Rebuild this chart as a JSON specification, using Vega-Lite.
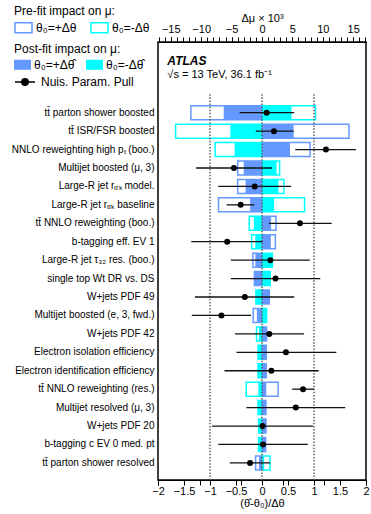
{
  "$schema": "https://vega.github.io/schema/vega-lite/v6.json",
  "width": 208,
  "height": 438,
  "autosize": {"type": "none"},
  "padding": {"left": 158, "top": 42, "right": 5, "bottom": 34},
  "background": "white",
  "config": {
    "font": "Liberation Sans",
    "view": {"stroke": "black", "strokeWidth": 1.5},
    "axis": {"labelFont": "Liberation Sans", "titleFont": "Liberation Sans", "labelColor": "black", "titleColor": "black", "titleFontWeight": "normal", "grid": false, "labelOverlap": false, "labelFlush": false},
    "legend": {"labelFont": "Liberation Sans", "titleFont": "Liberation Sans", "titleFontWeight": "normal", "labelFontSize": 12, "titleFontSize": 12, "labelColor": "black", "titleColor": "black"}
  },
  "data": {
    "values": [
      {"name": "tt̄ parton shower boosted", "pull": 0.09, "lo": -0.43, "hi": 0.62, "preUp": -11.7, "preDown": 8.8, "postUp": -6.3, "postDown": 4.85},
      {"name": "tt̄ ISR/FSR boosted", "pull": 0.23, "lo": -0.12, "hi": 0.61, "preUp": 14.3, "preDown": -14.2, "postUp": 5.2, "postDown": -5.2},
      {"name": "NNLO reweighting high pₜ (boo.)", "pull": 1.23, "lo": 0.64, "hi": 1.81, "preUp": 7.9, "preDown": -7.7, "postUp": 4.6, "postDown": -4.5},
      {"name": "Multijet boosted (μ, 3)", "pull": -0.54, "lo": -1.27, "hi": 0.19, "preUp": -4.0, "preDown": 2.9, "postUp": -3.0, "postDown": 2.4},
      {"name": "Large-R jet rₜᵣₖ model.", "pull": -0.14, "lo": -0.84, "hi": 0.56, "preUp": -4.0, "preDown": 3.6, "postUp": -2.7, "postDown": 2.7},
      {"name": "Large-R jet rₜᵣₖ baseline", "pull": -0.41, "lo": -0.68, "hi": -0.15, "preUp": -7.15, "preDown": 7.0, "postUp": -1.95, "postDown": 2.0},
      {"name": "tt̄ NNLO reweighting (boo.)", "pull": 0.73, "lo": 0.13, "hi": 1.34, "preUp": 2.3, "preDown": -2.1, "postUp": 1.5, "postDown": -1.35},
      {"name": "b-tagging eff. EV 1", "pull": -0.67, "lo": -1.36, "hi": 0.01, "preUp": 2.2, "preDown": -1.7, "postUp": 1.45, "postDown": -1.1},
      {"name": "Large-R jet τ₃₂ res. (boo.)", "pull": 0.16, "lo": -0.6, "hi": 0.92, "preUp": -1.5, "preDown": 1.7, "postUp": -1.1, "postDown": 1.65},
      {"name": "single top Wt DR vs. DS", "pull": 0.26, "lo": -0.6, "hi": 1.12, "preUp": -1.25, "preDown": 1.35, "postUp": -1.2, "postDown": 1.3},
      {"name": "W+jets PDF 49", "pull": -0.33, "lo": -1.29, "hi": 0.62, "preUp": 1.2, "preDown": -1.0, "postUp": 1.2, "postDown": -0.95},
      {"name": "Multijet boosted (e, 3, fwd.)", "pull": -0.78, "lo": -1.35, "hi": -0.21, "preUp": -1.45, "preDown": 0.75, "postUp": -0.85, "postDown": 0.7},
      {"name": "W+jets PDF 42", "pull": 0.14, "lo": -0.52, "hi": 0.81, "preUp": 0.75, "preDown": -0.9, "postUp": 0.7, "postDown": -0.5},
      {"name": "Electron isolation efficiency", "pull": 0.46, "lo": -0.49, "hi": 1.43, "preUp": 0.7, "preDown": -0.65, "postUp": 0.7, "postDown": -0.6},
      {"name": "Electron identification efficiency", "pull": 0.18, "lo": -0.72, "hi": 1.09, "preUp": 0.7, "preDown": -0.65, "postUp": 0.7, "postDown": -0.65},
      {"name": "tt̄ NNLO reweighting (res.)", "pull": 0.79, "lo": 0.58, "hi": 1.0, "preUp": 2.65, "preDown": -2.6, "postUp": 0.7, "postDown": -0.6},
      {"name": "Multijet resolved (μ, 3)", "pull": 0.65, "lo": -0.3, "hi": 1.6, "preUp": 0.65, "preDown": -0.65, "postUp": 0.65, "postDown": -0.6},
      {"name": "W+jets PDF 20", "pull": 0.01, "lo": -0.96, "hi": 0.98, "preUp": 0.65, "preDown": -0.55, "postUp": 0.65, "postDown": -0.55},
      {"name": "b-tagging c EV 0 med. pt", "pull": 0.02, "lo": -0.84, "hi": 0.88, "preUp": 0.6, "preDown": -0.55, "postUp": 0.6, "postDown": -0.55},
      {"name": "tt̄ parton shower resolved", "pull": -0.23, "lo": -0.62, "hi": 0.16, "preUp": -1.05, "preDown": 1.3, "postUp": -0.5, "postDown": 0.35}
    ]
  },
  "layer": [
    {
      "encoding": {
        "y": {
          "field": "name", "type": "nominal", "sort": null,
          "scale": {"type": "band", "range": [63.7, 427.9], "paddingInner": 0.24, "paddingOuter": 0},
          "axis": {"title": null, "ticks": false, "domain": false, "labelFontSize": 10, "labelPadding": 4, "labelLimit": 0}
        }
      },
      "layer": [
        {
          "transform": [{"fold": ["preUp", "preDown"], "as": ["pre", "impact"]}],
          "mark": {"type": "bar", "fill": "transparent", "strokeWidth": 1.5, "size": 14},
          "encoding": {
            "x": {
              "field": "impact", "type": "quantitative",
              "scale": {"domain": [-17.1, 17.1], "nice": false, "zero": false},
              "axis": {
                "orient": "top", "title": null, "labels": false,
                "domainColor": "black", "tickColor": "black",
                "values": [-17,-16,-15,-14,-13,-12,-11,-10,-9,-8,-7,-6,-5,-4,-3,-2,-1,0,1,2,3,4,5,6,7,8,9,10,11,12,13,14,15,16,17]
              }
            },
            "x2": {"datum": 0},
            "stroke": {
              "field": "pre", "type": "nominal",
              "scale": {"domain": ["preUp", "preDown"], "range": ["#6699ff", "#00ffff"]},
              "legend": {
                "title": "Pre-fit impact on μ:", "orient": "none", "legendX": -144, "legendY": -36,
                "direction": "horizontal", "symbolType": "M-1,-0.59H1V0.59H-1Z", "symbolSize": 289,
                "symbolStrokeWidth": 1.5, "symbolFillColor": "white", "columnPadding": 11, "labelOffset": 3, "titlePadding": 0,
                "labelExpr": "datum.value == 'preUp' ? 'θ₀=+Δθ' : 'θ₀=-Δθ'"
              }
            }
          }
        },
        {
          "transform": [{"fold": ["postUp", "postDown"], "as": ["post", "impact"]}],
          "mark": {"type": "bar", "size": 14},
          "encoding": {
            "x": {
              "field": "impact", "type": "quantitative",
              "scale": {"domain": [-17.1, 17.1], "nice": false, "zero": false},
              "axis": {
                "orient": "top", "title": "Δμ × 10³", "titleFontSize": 11, "titlePadding": 0,
                "values": [-15, -10, -5, 0, 5, 10, 15], "format": "d",
                "labelFontSize": 11, "labelPadding": 3,
                "domainColor": "black", "tickColor": "black"
              }
            },
            "x2": {"datum": 0},
            "fill": {
              "field": "post", "type": "nominal",
              "scale": {"domain": ["postUp", "postDown"], "range": ["#6699ff", "#00ffff"]},
              "legend": {
                "title": "Post-fit impact on μ:", "orient": "none", "legendX": -144, "legendY": 2,
                "direction": "horizontal", "symbolType": "M-1,-0.59H1V0.59H-1Z", "symbolSize": 289,
                "symbolStrokeWidth": 0, "columnPadding": 11, "labelOffset": 3, "titlePadding": 0,
                "labelExpr": "datum.value == 'postUp' ? 'θ₀=+Δθ̂' : 'θ₀=-Δθ̂'"
              }
            }
          }
        }
      ],
      "resolve": {"scale": {"x": "independent"}, "axis": {"x": "independent"}}
    },
    {
      "encoding": {
        "x": {
          "type": "quantitative", "scale": {"domain": [-2, 2], "nice": false, "zero": false},
          "axis": {
            "orient": "bottom", "title": "(θ̂-θ₀)/Δθ", "titleFontSize": 11, "titlePadding": 1,
            "values": [-2, -1.5, -1, -0.5, 0, 0.5, 1, 1.5, 2], "format": "~g",
            "labelFontSize": 11, "labelPadding": 0,
            "domainColor": "black", "tickColor": "black"
          }
        }
      },
      "layer": [
        {
          "data": {"values": [{"ref": -1}, {"ref": 0}, {"ref": 1}]},
          "mark": {"type": "rule", "color": "#555555", "strokeWidth": 1.4, "strokeDash": [1.5, 1.6]},
          "encoding": {
            "x": {"field": "ref", "type": "quantitative"},
            "y": {"datum": 0, "type": "quantitative", "scale": {"domain": [-2.836, 20.93], "reverse": true, "nice": false, "zero": false}, "axis": null},
            "y2": {"datum": 20.93}
          }
        },
        {
          "data": {"values": [{"label": "ATLAS", "px": -1.82, "row": -1.59}]},
          "mark": {"type": "text", "fontStyle": "italic", "fontWeight": "bold", "fontSize": 12, "align": "left", "baseline": "alphabetic", "color": "black"},
          "encoding": {
            "x": {"field": "px", "type": "quantitative"},
            "y": {"field": "row", "type": "quantitative"},
            "text": {"field": "label"}
          }
        },
        {
          "data": {"values": [{"label": "√s = 13 TeV, 36.1 fb⁻¹", "px": -1.82, "row": -0.88}]},
          "mark": {"type": "text", "fontSize": 11, "align": "left", "baseline": "alphabetic", "color": "black"},
          "encoding": {
            "x": {"field": "px", "type": "quantitative"},
            "y": {"field": "row", "type": "quantitative"},
            "text": {"field": "label"}
          }
        }
      ]
    },
    {
      "encoding": {
        "y": {
          "field": "name", "type": "nominal", "sort": null,
          "scale": {"type": "band", "range": [63.7, 427.9], "paddingInner": 0.24, "paddingOuter": 0},
          "axis": null
        }
      },
      "layer": [
        {
          "mark": {"type": "rule", "color": "#111111", "strokeWidth": 1.3},
          "encoding": {
            "x": {
              "field": "lo", "type": "quantitative",
              "scale": {"domain": [-2, 2], "nice": false, "zero": false},
              "axis": {
                "orient": "bottom", "title": null, "labels": false,
                "domainColor": "black", "tickColor": "black",
                "values": [-2,-1.9,-1.8,-1.7,-1.6,-1.5,-1.4,-1.3,-1.2,-1.1,-1,-0.9,-0.8,-0.7,-0.6,-0.5,-0.4,-0.3,-0.2,-0.1,0,0.1,0.2,0.3,0.4,0.5,0.6,0.7,0.8,0.9,1,1.1,1.2,1.3,1.4,1.5,1.6,1.7,1.8,1.9,2]
              }
            },
            "x2": {"field": "hi"}
          }
        },
        {
          "mark": {"type": "point", "filled": true, "size": 36, "opacity": 1},
          "encoding": {
            "x": {"field": "pull", "type": "quantitative"},
            "color": {
              "datum": "Nuis. Param. Pull",
              "scale": {"range": ["black"]},
              "legend": {
                "title": null, "orient": "none", "legendX": -144, "legendY": 29,
                "symbolType": "M-1,0H1M0.32,0A0.32,0.32 0 1,1 -0.32,0A0.32,0.32 0 1,1 0.32,0Z",
                "symbolSize": 400, "labelOffset": 5, "symbolStrokeColor": "black", "symbolStrokeWidth": 1.5, "symbolFillColor": "black",
                "encode": {"symbols": {"update": {"stroke": {"value": "black"}, "strokeWidth": {"value": 1.5}, "fill": {"value": "black"}, "opacity": {"value": 1}}}}
              }
            }
          }
        }
      ]
    }
  ],
  "resolve": {"scale": {"x": "independent", "y": "independent"}, "axis": {"x": "independent", "y": "independent"}}
}
